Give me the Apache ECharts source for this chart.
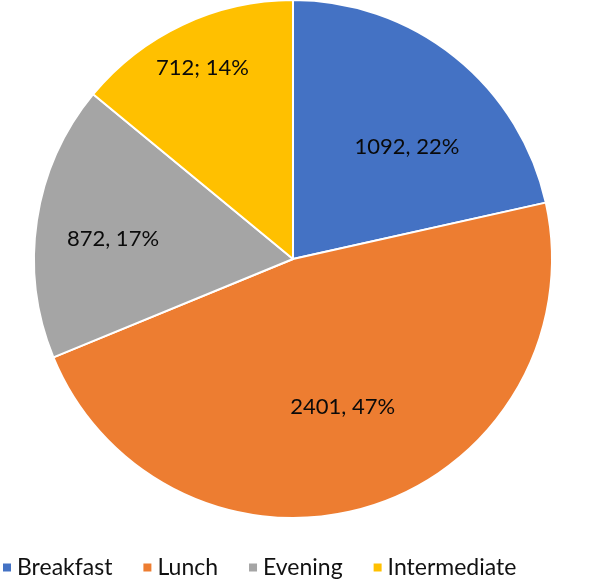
<!DOCTYPE html>
<html>
<head>
<meta charset="utf-8">
<script src="https://cdn.jsdelivr.net/npm/echarts@6/dist/echarts.min.js"></script>
<style>html,body{margin:0;padding:0;background:#fff;}#c{width:597px;height:582px;}</style>
</head>
<body>
<div id="c"></div>
<script>
const categories = ['Breakfast', 'Lunch', 'Evening', 'Intermediate'];
const values = [1092, 2401, 872, 712];
const separators = [', ', ', ', ', ', '; '];
const colors = ['#4472C4', '#ED7D31', '#A5A5A5', '#FFC000'];
const labelOffsets = [[31, -9], [10, 21], [-49, 0], [-34, -71]];

const chart = echarts.init(document.getElementById('c'));
const FONT = 'Lato, "Open Sans", sans-serif';
chart.setOption({
  animation: false,
  color: colors,
  legend: {
    bottom: -2,
    left: -4,
    itemWidth: 10,
    itemHeight: 10,
    itemGap: 29,
    icon: 'rect',
    textStyle: { fontFamily: FONT, fontSize: 23, color: '#111' },
    data: categories
  },
  series: [{
    type: 'pie',
    center: [293, 259],
    radius: [0, 259],
    startAngle: 90,
    clockwise: true,
    itemStyle: { borderColor: '#fff', borderWidth: 2 },
    label: {
      show: true,
      position: 'inside',
      fontFamily: FONT,
      fontSize: 22,
      color: '#0a0a0a',
      formatter: p => p.value + separators[p.dataIndex] + Math.round(p.percent) + '%'
    },
    labelLine: { show: false },
    data: categories.map((n, i) => ({
      name: n,
      value: values[i],
      label: { offset: labelOffsets[i] }
    }))
  }]
});
</script>
</body>
</html>
